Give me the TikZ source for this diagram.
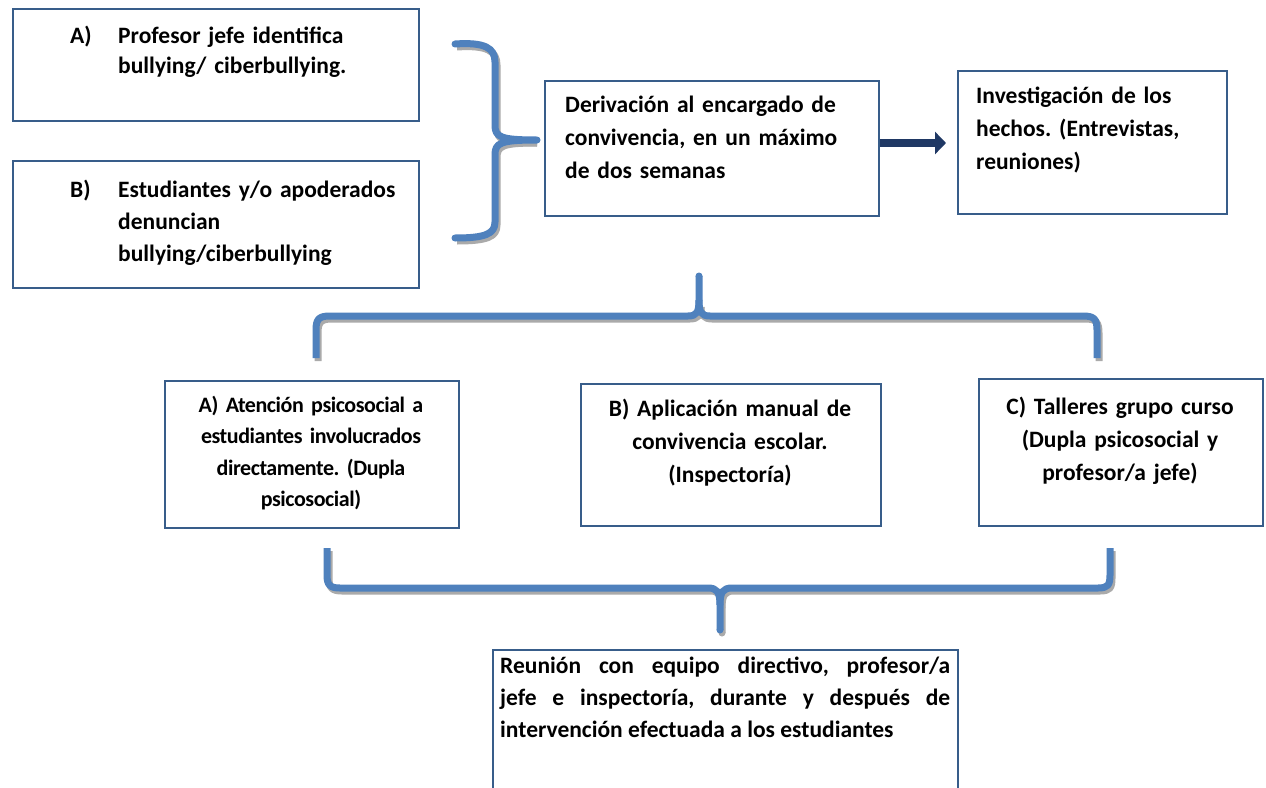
\documentclass[tikz,border=0pt]{standalone}
\usepackage{fontspec}
\setmainfont{Carlito}
\newfontfamily\condfont{Carlito}[LetterSpace=-2]
\usetikzlibrary{arrows.meta}
\definecolor{bracec}{RGB}{79,129,189}
\definecolor{shadowc}{RGB}{170,170,170}
\definecolor{boxc}{RGB}{56,93,138}
\definecolor{arrowc}{RGB}{31,56,100}
\frenchspacing
\begin{document}
\begin{tikzpicture}[x=1pt,y=-1pt,
  box/.style={draw=boxc,line width=1.6pt,inner sep=0pt,fill=white,anchor=north west},
  txt/.style={inner sep=0pt,anchor=base west,align=left,font=\fontsize{23.5}{32}\selectfont\bfseries},
  ctxt/.style={inner sep=0pt,anchor=base,align=center,font=\fontsize{23.5}{32}\selectfont\bfseries},
  brace/.style={line width=7pt,draw=bracec,line cap=round,line join=round},
  bshadow/.style={line width=7pt,draw=shadowc,line cap=butt,line join=round}
]
\clip (0,0) rectangle (1266,787);
\fill[white] (0,0) rectangle (1266,787);

% boxes
\node[box,minimum width=406pt,minimum height=112pt] (a1) at (12,8) {};
\node[box,minimum width=406pt,minimum height=127pt] (b1) at (12,160) {};
\node[box,minimum width=334pt,minimum height=135pt] (der) at (544,80) {};
\node[box,minimum width=269pt,minimum height=143pt] (inv) at (957,70) {};
\node[box,minimum width=294pt,minimum height=147pt] (la) at (164,380) {};
\node[box,minimum width=300pt,minimum height=142pt] (lb) at (580,383) {};
\node[box,minimum width=284pt,minimum height=147pt] (lc) at (978,378) {};
\node[box,minimum width=465pt,minimum height=160pt] (bot) at (492,649) {};

% texts
\node[txt] (a1l) at (70,43) {A)};
\node[txt,text width=295pt,font=\fontsize{23.5}{30}\selectfont\bfseries] (a1t) at (118,43) {Profesor jefe identifica\\bullying/ ciberbullying.};
\node[txt] (b1l) at (70,197) {B)};
\node[txt,text width=295pt] (b1t) at (118,197) {Estudiantes y/o apoderados\\denuncian\\bullying/ciberbullying};
\node[txt,text width=310pt,font=\fontsize{23.5}{33}\selectfont\bfseries] (dert) at (565,112) {Derivación al encargado de\\convivencia, en un máximo\\de dos semanas};
\node[txt,text width=245pt,font=\fontsize{23.5}{33}\selectfont\bfseries] (invt) at (976,103) {Investigación de los\\hechos. (Entrevistas,\\reuniones)};
\node[ctxt,text width=290pt,font=\condfont\fontsize{22}{31.5}\selectfont\bfseries] (lat) at (311,412) {A) Atención psicosocial a\\estudiantes involucrados\\directamente. (Dupla\\psicosocial)};
\node[ctxt,text width=296pt,font=\fontsize{23.5}{33}\selectfont\bfseries] (lbt) at (730,416) {B) Aplicación manual de\\convivencia escolar.\\(Inspectoría)};
\node[ctxt,text width=280pt,font=\fontsize{23.5}{33}\selectfont\bfseries] (lct) at (1120,414) {C) Talleres grupo curso\\(Dupla psicosocial y\\profesor/a jefe)};
\node[txt,text width=450pt,align=justify] (bott) at (500,673) {Reunión con equipo directivo, profesor/a\linebreak jefe e inspectoría, durante y después de\linebreak intervención efectuada a los estudiantes};

% arrow
\draw[arrowc,line width=8pt,-{Triangle[width=22pt,length=11pt]},shorten >=11pt] (der.east |- 0,143) -- (inv.west |- 0,143);

% right brace (top)
\begin{scope}[shift={(2,3)}]
\draw[bshadow] (455,44) .. controls (485,42) and (495,48) .. (495,62) -- (495,125) .. controls (495,137) and (500,140) .. (535,140);
\draw[bshadow] (495,155) .. controls (495,143) and (500,140) .. (535,140);
\draw[bshadow] (495,155) -- (495,222) .. controls (495,234) and (485,238) .. (455,238);
\end{scope}
\draw[brace] (455,44) .. controls (485,42) and (495,48) .. (495,62) -- (495,125) .. controls (495,137) and (500,140) .. (537,140)
  .. controls (500,140) and (495,143) .. (495,155) -- (495,222) .. controls (495,234) and (485,238) .. (455,238);

% middle brace
\begin{scope}[shift={(2,3)}]
\draw[bshadow] (316,358) -- (316,330) .. controls (316,319) and (319,316) .. (330,316) -- (688,316) .. controls (696,316) and (699,312) .. (699,304);
\draw[bshadow] (699,304) .. controls (699,312) and (702,316) .. (710,316) -- (1083,316) .. controls (1094,316) and (1097,319) .. (1097,330) -- (1097,358);
\end{scope}
\draw[brace,line cap=butt] (316,358) -- (316,330) .. controls (316,319) and (319,316) .. (330,316) -- (688,316) .. controls (697,316) and (699,312) .. (699,300) -- (699,276);
\draw[brace,line cap=butt] (699,300) .. controls (699,312) and (701,316) .. (710,316) -- (1083,316) .. controls (1094,316) and (1097,319) .. (1097,330) -- (1097,358);
\fill[bracec] (699,276) circle (3.5pt);

% bottom brace
\begin{scope}[shift={(2,3)}]
\draw[bshadow] (327,548) -- (327,575) .. controls (327,585) and (330,588) .. (340,588) -- (708,588) .. controls (717,588) and (720,592) .. (720,605) -- (720,630);
\draw[bshadow] (720,605) .. controls (720,592) and (723,588) .. (732,588) -- (1098,588) .. controls (1108,588) and (1110,585) .. (1110,575) -- (1110,548);
\fill[shadowc] (720,630) circle (3.5pt);
\end{scope}
\draw[brace,line cap=butt] (327,548) -- (327,575) .. controls (327,585) and (330,588) .. (340,588) -- (708,588) .. controls (717,588) and (720,592) .. (720,605) -- (720,630);
\draw[brace,line cap=butt] (720,605) .. controls (720,592) and (723,588) .. (732,588) -- (1098,588) .. controls (1108,588) and (1110,585) .. (1110,575) -- (1110,548);
\fill[bracec] (720,630) circle (3.5pt);
\end{tikzpicture}
\end{document}
